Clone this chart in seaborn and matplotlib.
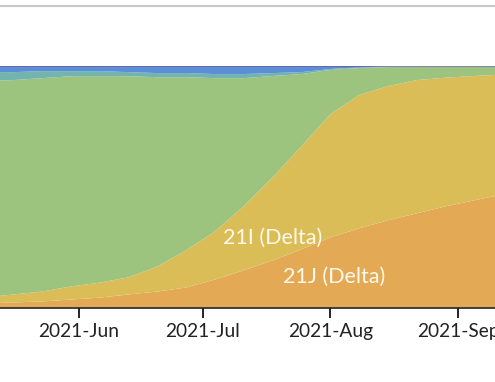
import numpy as np
import pandas as pd
import matplotlib
matplotlib.use("Agg")
import matplotlib.pyplot as plt
import seaborn as sns

# weekly pivots (frequencies in %)
dates = pd.date_range("2021-05-09", periods=19, freq="7D")
freq_21J = [1.7, 2.1, 2.5, 3.3, 4.1, 5.4, 6.6, 8.3, 11.6, 15.4, 19.5, 24.1,
            29.0, 32.8, 36.1, 39.0, 41.9, 44.4, 46.9]
freq_21I = [2.5, 3.3, 4.1, 5.4, 6.2, 7.1, 10.4, 15.4, 19.9, 26.6, 34.4, 42.7,
            51.0, 55.2, 55.6, 55.2, 53.3, 51.5, 49.6]
freq_alpha = [89.6, 88.8, 88.4, 87.1, 85.5, 83.3, 78.4, 71.7, 63.5, 53.0, 42.0,
              29.9, 18.4, 11.2, 7.9, 5.5, 4.5, 3.8, 3.2]
freq_teal = [3.7, 3.3, 2.9, 2.1, 2.1, 1.7, 1.7, 1.7, 1.7, 1.7, 1.2, 0.8,
             0.4, 0.2, 0.1, 0.0, 0.0, 0.0, 0.0]
freq_blue = [2.1, 2.1, 1.7, 1.7, 1.7, 2.1, 2.5, 2.5, 2.9, 2.9, 2.5, 2.1,
             0.8, 0.2, 0.0, 0.0, 0.0, 0.0, 0.0]
freq_other = [0.4, 0.4, 0.4, 0.4, 0.4, 0.4, 0.4, 0.4, 0.4, 0.4, 0.4, 0.4,
              0.4, 0.4, 0.3, 0.3, 0.3, 0.3, 0.3]

layer_colors = ["#E4A955", "#DBBD58", "#9CC47F", "#74B4AE", "#5A8ED6", "#5B58A6"]

tick_dates = pd.to_datetime(["2021-06-01", "2021-07-01", "2021-08-01", "2021-09-01"])
tick_labels = ["2021-Jun", "2021-Jul", "2021-Aug", "2021-Sep"]

sns.set_style("white")
plt.rcParams["font.family"] = ["Lato", "DejaVu Sans"]

fig = plt.figure(figsize=(4.95, 3.82), dpi=100)
ax = fig.add_axes([0, 0.195, 1, 0.632])

ax.stackplot(dates, freq_21J, freq_21I, freq_alpha, freq_teal, freq_blue, freq_other,
             colors=layer_colors, linewidth=0)

# x range: visible window is a crop of a wider chart
jun1 = pd.Timestamp("2021-06-01")
sep1 = pd.Timestamp("2021-09-01")
ax.set_xlim(jun1 - pd.Timedelta(days=19.2), sep1 + pd.Timedelta(days=9.0))
ax.set_ylim(0, 100)

ax.set_xticks(tick_dates)
ax.set_xticklabels(tick_labels, fontsize=13.8, color="#222222")
ax.set_yticks([])
ax.tick_params(axis="x", direction="out", length=7, width=1.4, pad=4,
               color="#222222", bottom=True)
for side in ["top", "left", "right"]:
    ax.spines[side].set_visible(False)
ax.spines["bottom"].set_color("#222222")
ax.spines["bottom"].set_linewidth(1.2)

ax.text(pd.Timestamp("2021-07-18"), 29, "21I (Delta)", ha="center", va="center",
        fontsize=15.5, color="#FFF9EC")
ax.text(pd.Timestamp("2021-08-02"), 12.7, "21J (Delta)", ha="center", va="center",
        fontsize=15.5, color="#FFF9EC")

# thin separator line at the top of the panel
fig.add_artist(plt.Line2D([0, 1], [1 - 5.7 / 382, 1 - 5.7 / 382],
                          color="#C8C8C8", linewidth=1.5, transform=fig.transFigure))

fig.savefig("out.png", dpi=100)
